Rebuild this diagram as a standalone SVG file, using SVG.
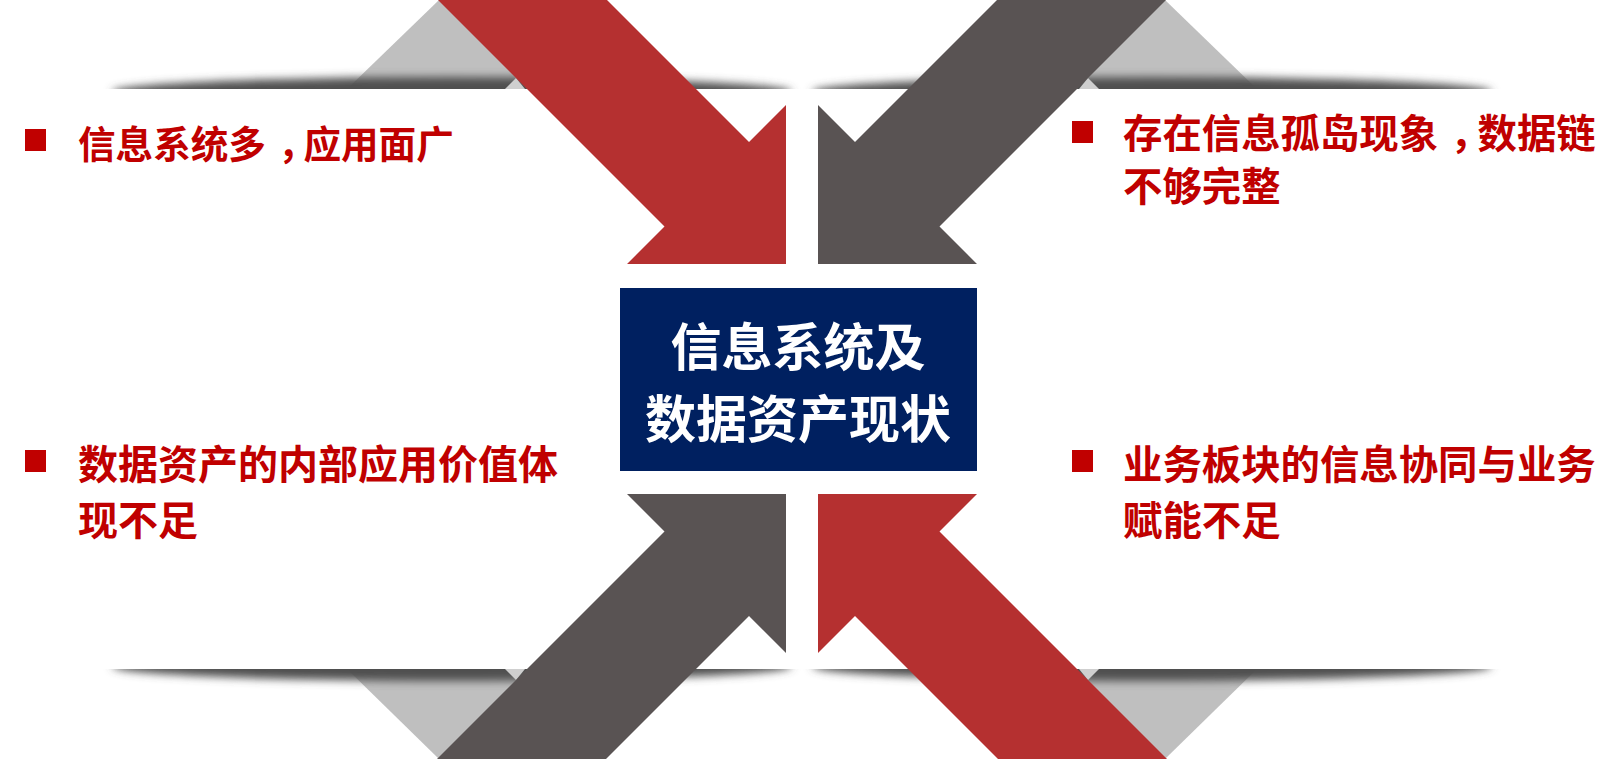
<svg xmlns="http://www.w3.org/2000/svg" width="1616" height="759" viewBox="0 0 1616 759">
  <style>
    .fold { fill: #BFBFBF; }
    .foldlight { fill: #CFCFCF; }
    .shadow { fill: #505050; filter: url(#blur); }
    .red { fill: #B53030; }
    .gray { fill: #595353; }
    .bullet { fill: #C00000; }
    .txt { font-family: "Noto Sans CJK SC", "Noto Sans", sans-serif; font-weight: 700; font-size: 39.4px; fill: #C00000; }
    .title { font-family: "Noto Sans CJK SC", "Noto Sans", sans-serif; font-weight: 700; font-size: 51px; fill: #FFFFFF; text-anchor: middle; }
  </style>
  <defs>
    <filter id="blur" x="-10%" y="-150%" width="120%" height="400%">
      <feGaussianBlur stdDeviation="4.5"/>
    </filter>
    <clipPath id="clipTop"><rect x="0" y="0" width="1616" height="89"/></clipPath>
    <clipPath id="clipBottom"><rect x="0" y="669" width="1616" height="90"/></clipPath>
  </defs>
  <rect width="1616" height="759" fill="#FFFFFF"/>

  <g id="background">
    <polygon class="fold" points="347,89 439,0 531,89"/>
    <polygon class="fold" points="1073,89 1165,0 1257,89"/>
    <polygon class="fold" points="347,669 439,759 531,669"/>
    <polygon class="fold" points="1073,669 1165,759 1257,669"/>
    <g clip-path="url(#clipTop)">
      <ellipse class="shadow" cx="452" cy="92" rx="340" ry="15"/>
      <ellipse class="shadow" cx="1152" cy="92" rx="340" ry="15"/>
    </g>
    <g clip-path="url(#clipBottom)">
      <ellipse class="shadow" cx="452" cy="666" rx="340" ry="15"/>
      <ellipse class="shadow" cx="1152" cy="666" rx="340" ry="15"/>
    </g>
    <polygon class="foldlight" points="505,89 516,78 525,89"/>
    <polygon class="foldlight" points="1099,89 1088,78 1079,89"/>
    <polygon class="foldlight" points="505,669 516,680 525,669"/>
    <polygon class="foldlight" points="1099,669 1088,680 1079,669"/>
  </g>

  <g id="connectors">
    <polygon id="arrow-tl" class="red" points="433,-5 664.5,226.5 627,264 786,264 786,105 749,142 602,-5"/>
    <polygon id="arrow-tr" class="gray" points="1171,-5 939.5,226.5 977,264 818,264 818,105 855,142 1002,-5"/>
    <polygon id="arrow-bl" class="gray" points="431,765 664.5,531.5 627,494 786,494 786,653 749,616 600,765"/>
    <polygon id="arrow-br" class="red" points="1173,765 939.5,531.5 977,494 818,494 818,653 855,616 1004,765"/>
  </g>

  <g id="center">
    <rect x="620" y="288" width="357" height="183" fill="#002060"/>
    <text class="title" x="798" y="366">信息系统及</text>
    <text class="title" x="798" y="438">数据资产现状</text>
  </g>

  <g id="item-tl">
    <rect class="bullet" x="25" y="129" width="21" height="22"/>
    <text class="txt" x="78" y="157.5" dx="0 0 0 0 0 12 -12" style="font-size:37.6px">信息系统多，应用面广</text>
  </g>
  <g id="item-bl">
    <rect class="bullet" x="25" y="450" width="21" height="22"/>
    <text class="txt" x="78" y="478.5" style="font-size:40px">数据资产的内部应用价值体</text>
    <text class="txt" x="78" y="534.5" style="font-size:40px">现不足</text>
  </g>
  <g id="item-tr">
    <rect class="bullet" x="1072" y="121" width="21" height="22"/>
    <text class="txt" x="1123" y="147.5" dx="0 0 0 0 0 0 0 0 12 -12">存在信息孤岛现象，数据链</text>
    <text class="txt" x="1123" y="200.5">不够完整</text>
  </g>
  <g id="item-br">
    <rect class="bullet" x="1072" y="450" width="21" height="22"/>
    <text class="txt" x="1123" y="478.5">业务板块的信息协同与业务</text>
    <text class="txt" x="1123" y="534.5">赋能不足</text>
  </g>
</svg>
